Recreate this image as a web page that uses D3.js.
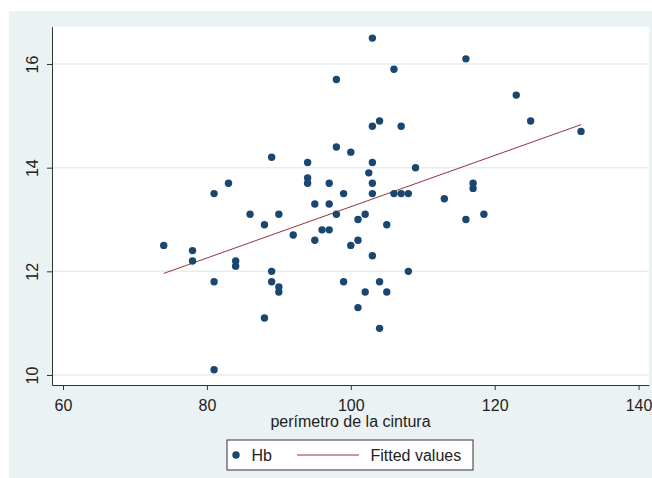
<!DOCTYPE html>
<html>
<head>
<meta charset="utf-8">
<script src="https://cdn.jsdelivr.net/npm/d3@7"></script>
<style>
  body { margin: 0; background: #fff; }
  text { font-family: "Liberation Sans", Arial, sans-serif; fill: #222; }
</style>
</head>
<body>
<svg id="chart" width="652" height="478"></svg>
<script>
// waist perimeter (x) vs Hb (y)
const waist = [74, 78, 78, 81, 81, 81, 83, 84, 84, 86, 88, 88, 89, 89, 89, 90, 90, 90,
  92, 94, 94, 94, 95, 95, 96, 97, 97, 97, 98, 98, 98, 99, 99, 100, 100,
  101, 101, 101, 102, 102, 102.5, 103, 103, 103, 103, 103, 103, 104, 104, 104,
  105, 105, 106, 106, 107, 107, 108, 108, 109, 113, 116, 116, 117, 117, 118.5,
  123, 125, 132];
const hb = [12.5, 12.4, 12.2, 13.5, 11.8, 10.1, 13.7, 12.2, 12.1, 13.1, 12.9, 11.1, 14.2, 12.0, 11.8, 13.1, 11.7, 11.6,
  12.7, 14.1, 13.8, 13.7, 13.3, 12.6, 12.8, 13.7, 13.3, 12.8, 15.7, 14.4, 13.1, 13.5, 11.8, 14.3, 12.5,
  13.0, 12.6, 11.3, 13.1, 11.6, 13.9, 16.5, 14.8, 14.1, 13.7, 13.5, 12.3, 14.9, 11.8, 10.9,
  12.9, 11.6, 15.9, 13.5, 14.8, 13.5, 13.5, 12.0, 14.0, 13.4, 16.1, 13.0, 13.7, 13.6, 13.1,
  15.4, 14.9, 14.7];

// fitted values line (end points)
const fitX = [74, 132];
const fitY = [11.96, 14.83];

const xTicks = [60, 80, 100, 120, 140];
const yTicks = [10, 12, 14, 16];

const NAVY = "#1a476f";
const MAROON = "#90353b";

var svg = d3.select("#chart");

// plot region edges
var plotLeft = 52, plotRight = 649, plotTop = 26.7, plotBottom = 385;

// outer graph region
svg.append("rect")
  .attr("x", 9).attr("y", 11)
  .attr("width", 643).attr("height", 467)
  .attr("fill", "#eaf2f3");

svg.append("rect")
  .attr("x", plotLeft).attr("y", plotTop)
  .attr("width", plotRight - plotLeft).attr("height", plotBottom - plotTop)
  .attr("fill", "#fff");

var x = d3.scaleLinear().domain([58.47, 141.45]).range([plotLeft, plotRight]);
var y = d3.scaleLinear().domain([9.807, 16.72]).range([plotBottom, plotTop]);

// horizontal grid lines
svg.append("g")
  .selectAll("line")
  .data(yTicks)
  .join("line")
  .attr("x1", plotLeft).attr("x2", plotRight)
  .attr("y1", d => y(d)).attr("y2", d => y(d))
  .attr("stroke", "#e6eef0")
  .attr("stroke-width", 1.5);

// axes
var xAxis = svg.append("g")
  .attr("transform", "translate(0," + plotBottom + ")")
  .call(d3.axisBottom(x).tickValues(xTicks).tickSize(5).tickSizeOuter(0).tickFormat(d3.format("d")));
xAxis.selectAll("text")
  .attr("y", 26).attr("dy", 0)
  .style("font-size", "16px");

var yAxis = svg.append("g")
  .attr("transform", "translate(" + plotLeft + ",0)")
  .call(d3.axisLeft(y).tickValues(yTicks).tickSize(5).tickSizeOuter(0).tickFormat(d3.format("d")));
yAxis.selectAll("text")
  .attr("x", 0).attr("dy", 0)
  .attr("text-anchor", "middle")
  .attr("transform", "translate(-14.5,0) rotate(-90)")
  .style("font-size", "16px");

svg.selectAll(".domain, .tick line").attr("stroke", "#333");
svg.selectAll(".tick text").attr("font-family", null);

// x axis title
svg.append("text")
  .attr("x", (plotLeft + plotRight) / 2)
  .attr("y", 427)
  .attr("text-anchor", "middle")
  .style("font-size", "16px")
  .text("perímetro de la cintura");

// fitted line
svg.append("line")
  .attr("x1", x(fitX[0])).attr("y1", y(fitY[0]))
  .attr("x2", x(fitX[1])).attr("y2", y(fitY[1]))
  .attr("stroke", MAROON)
  .attr("stroke-width", 1);

// scatter points
svg.append("g")
  .selectAll("circle")
  .data(waist.map((w, i) => [w, hb[i]]))
  .join("circle")
  .attr("cx", d => x(d[0]))
  .attr("cy", d => y(d[1]))
  .attr("r", 3.7)
  .attr("fill", NAVY);

// legend
var legend = svg.append("g");
legend.append("rect")
  .attr("x", 227).attr("y", 440)
  .attr("width", 246).attr("height", 30)
  .attr("fill", "#fff")
  .attr("stroke", "#333")
  .attr("stroke-width", 1);
legend.append("circle")
  .attr("cx", 236).attr("cy", 455).attr("r", 3.7)
  .attr("fill", NAVY);
legend.append("text")
  .attr("x", 251.5).attr("y", 461)
  .style("font-size", "16px")
  .text("Hb");
legend.append("line")
  .attr("x1", 297).attr("x2", 359)
  .attr("y1", 455).attr("y2", 455)
  .attr("stroke", MAROON)
  .attr("stroke-width", 1);
legend.append("text")
  .attr("x", 370.5).attr("y", 461)
  .style("font-size", "16px")
  .text("Fitted values");
</script>
</body>
</html>
